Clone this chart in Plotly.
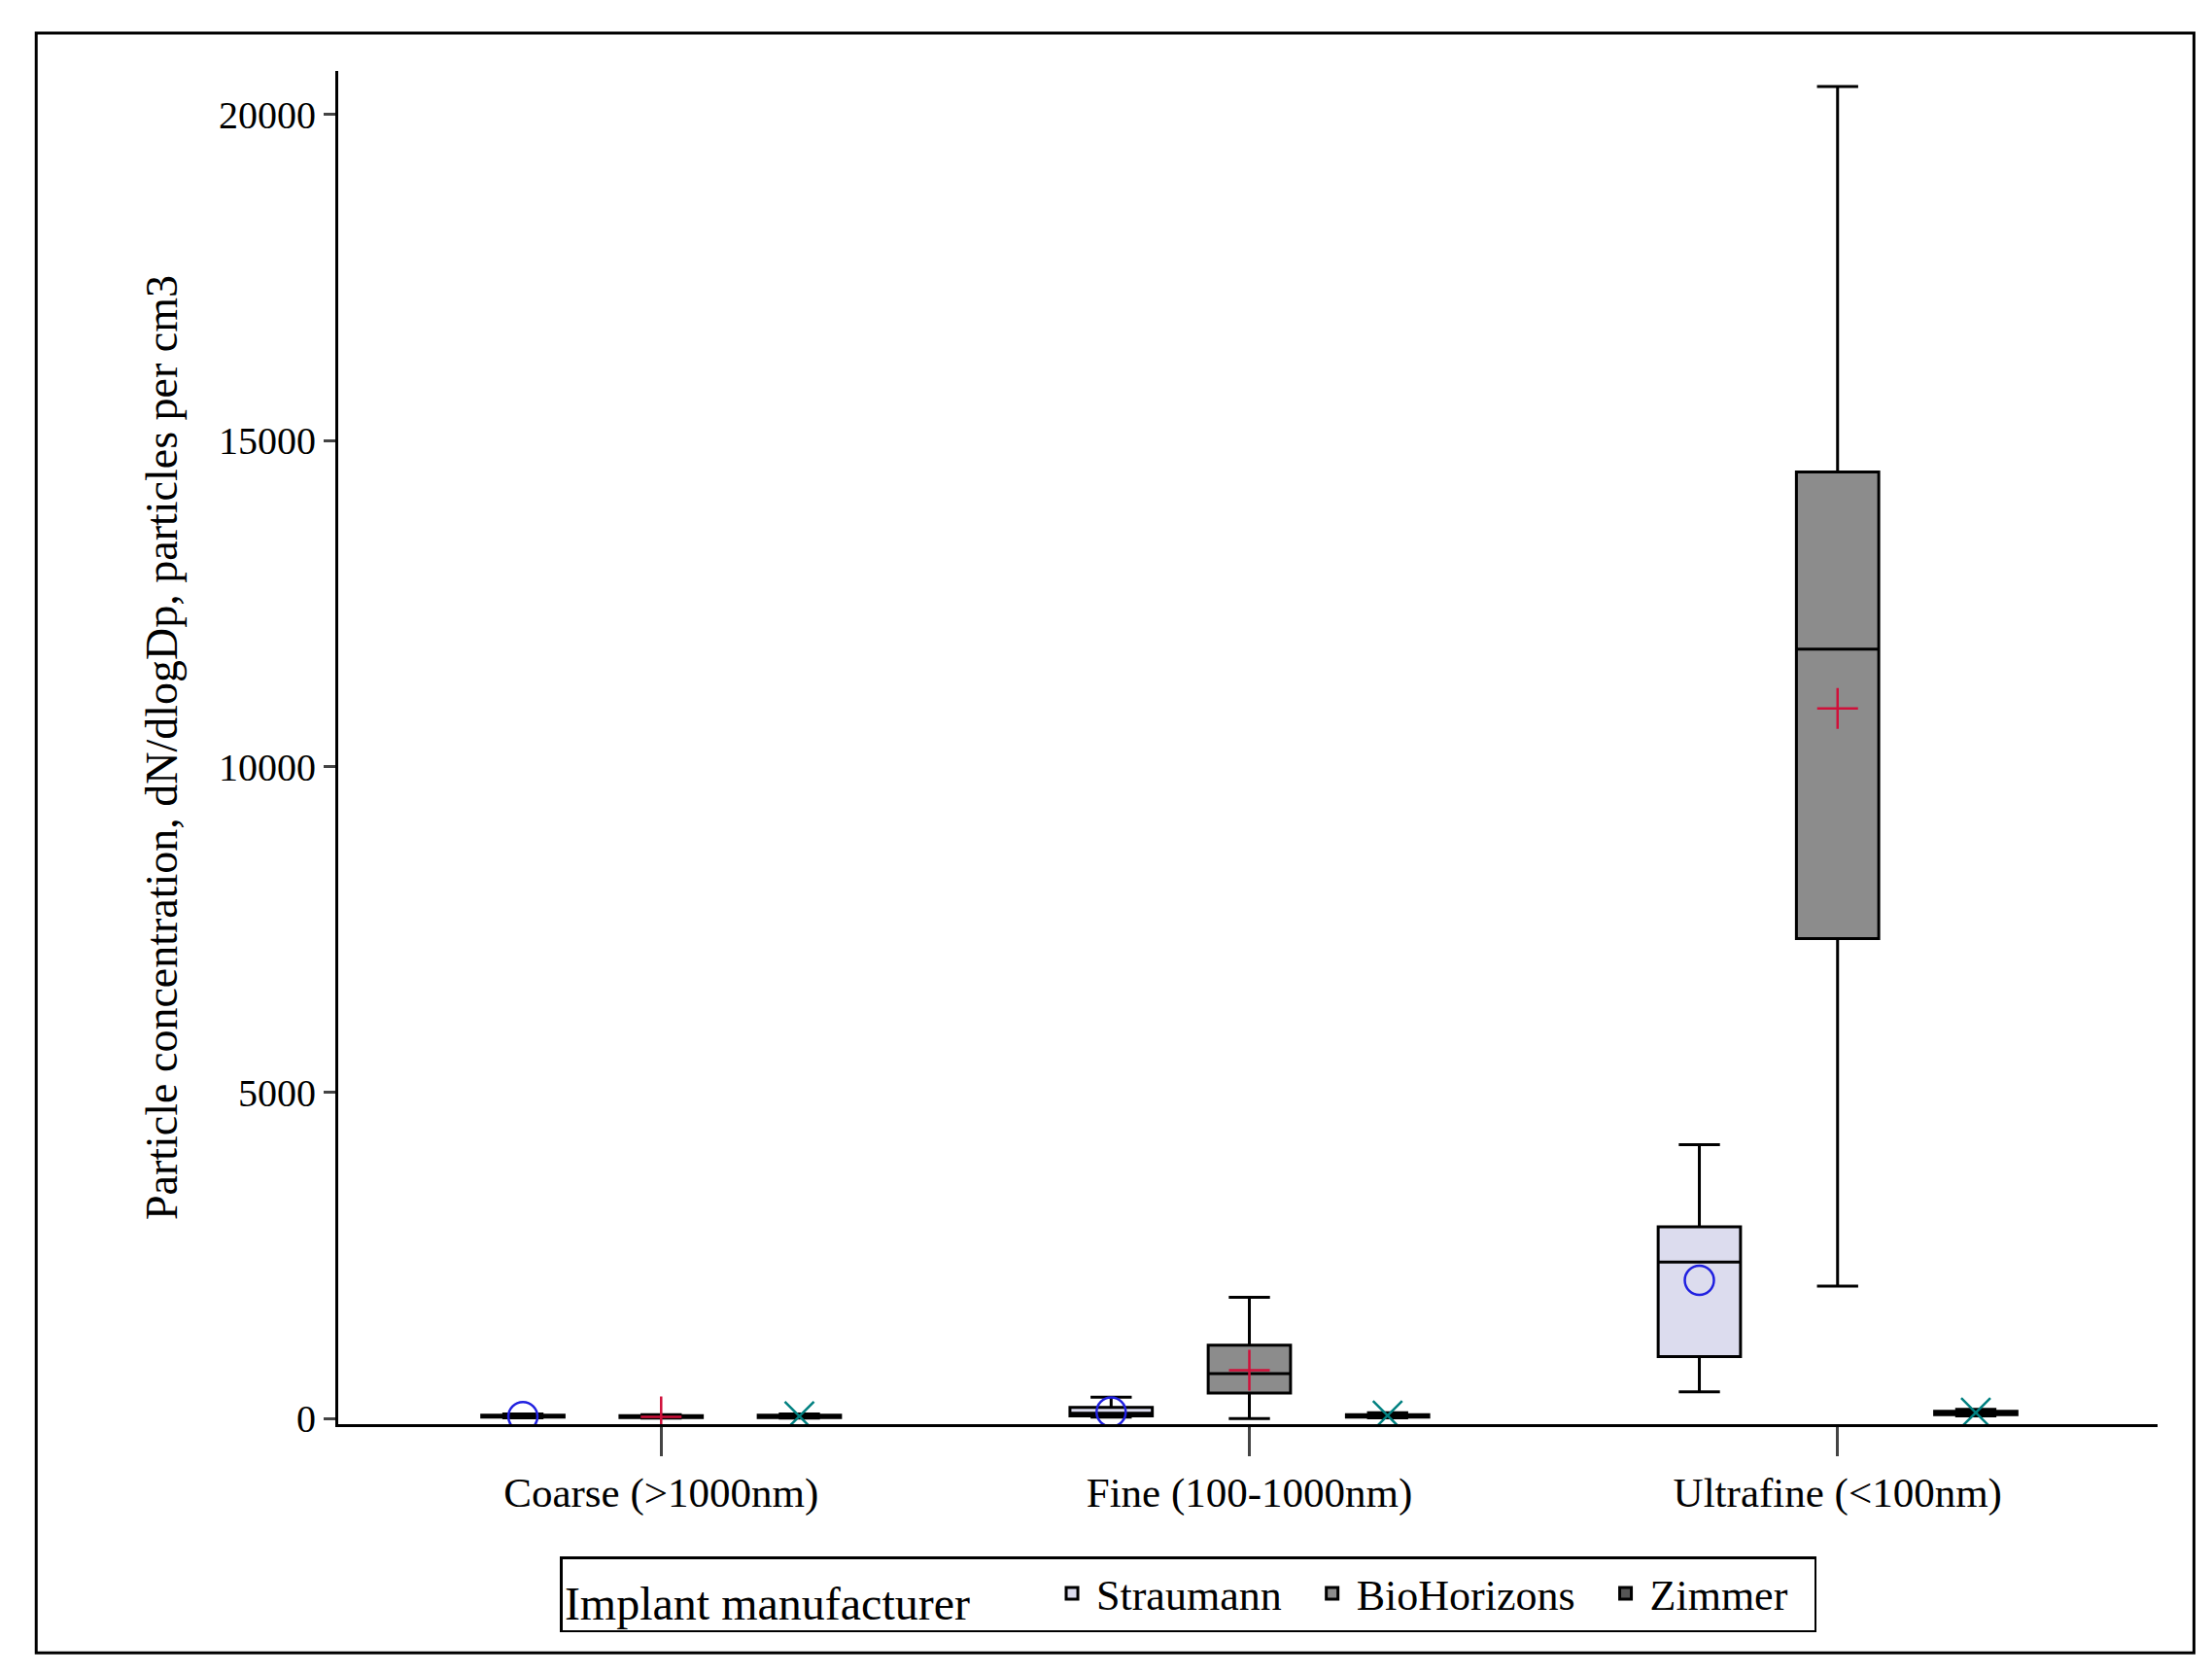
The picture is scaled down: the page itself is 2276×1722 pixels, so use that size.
import plotly.graph_objects as go

categories = ["Coarse (>1000nm)", "Fine (100-1000nm)", "Ultrafine (<100nm)"]
manufacturers = ["Straumann", "BioHorizons", "Zimmer"]
lower = {"Straumann": [10, 20, 410], "BioHorizons": [5, 0, 2030], "Zimmer": [5, 10, 40]}
q1 = {"Straumann": [20, 40, 950], "BioHorizons": [15, 390, 7360], "Zimmer": [15, 20, 60]}
median = {"Straumann": [30, 80, 2400], "BioHorizons": [25, 690, 11800], "Zimmer": [30, 40, 80]}
q3 = {"Straumann": [50, 170, 2940], "BioHorizons": [45, 1125, 14520], "Zimmer": [50, 60, 110]}
upper = {"Straumann": [70, 325, 4200], "BioHorizons": [60, 1860, 20430], "Zimmer": [70, 90, 140]}
mean = {"Straumann": [30, 100, 2120], "BioHorizons": [25, 740, 10890], "Zimmer": [35, 45, 90]}
ytick_vals = [0, 5000, 10000, 15000, 20000]
ytick_text = ["0", "5000", "10000", "15000", "20000"]

fills = {"Straumann": "#DCDCEE", "BioHorizons": "#8C8C8C", "Zimmer": "#555555"}
mean_style = {"Straumann": ("circle-open", "#2020E0"),
              "BioHorizons": ("cross-thin-open", "#D0103A"),
              "Zimmer": ("x-thin-open", "#008080")}
offsets = {"Straumann": -0.235, "BioHorizons": 0.0, "Zimmer": 0.235}

fig = go.Figure()
for m in manufacturers:
    xs = [i + offsets[m] for i in range(len(categories))]
    fig.add_trace(go.Box(
        x=xs, q1=q1[m], median=median[m], q3=q3[m],
        lowerfence=lower[m], upperfence=upper[m],
        name=m + "  ", width=0.14, whiskerwidth=0.5,
        fillcolor=fills[m], line=dict(color="#000000", width=3),
        hoverinfo="skip"))
for m in manufacturers:
    xs = [i + offsets[m] for i in range(len(categories))]
    sym, col = mean_style[m]
    fig.add_trace(go.Scatter(
        x=xs, y=mean[m], mode="markers", showlegend=False,
        marker=dict(symbol=sym, size=30, color=col, line=dict(color=col, width=2.5))))

font = "Liberation Serif, Times New Roman, serif"
fig.update_layout(
    width=2276, height=1722,
    paper_bgcolor="white", plot_bgcolor="white",
    margin=dict(l=340, r=64, t=65, b=265),
    font=dict(family=font, color="black", size=40),
    showlegend=True,
    legend=dict(orientation="h", x=0.122, y=-0.098, xanchor="left", yanchor="top",
                title=dict(text="Implant manufacturer      ", font=dict(size=48)),
                font=dict(size=44), bordercolor="black", borderwidth=2.5,
                itemwidth=40, bgcolor="white"),
    xaxis=dict(range=[-0.549, 2.544], tickvals=[0, 1, 2], ticktext=categories,
               showgrid=False, zeroline=False, showline=True, linecolor="black",
               linewidth=3, ticks="outside", ticklen=30, tickwidth=2.5,
               tickfont=dict(size=43)),
    yaxis=dict(range=[-87, 20670], tickvals=ytick_vals, ticktext=ytick_text,
               showgrid=False, zeroline=False, showline=True, linecolor="black",
               linewidth=3, ticks="outside", ticklen=12, tickwidth=3,
               tickfont=dict(size=40),
               title=dict(text="Particle concentration, dN/dlogDp, particles per cm3",
                          font=dict(size=46), standoff=28)),
    shapes=[dict(type="rect", xref="paper", yref="paper", x0=-0.166, x1=1.020,
                 y0=-0.169, y1=1.028, line=dict(color="black", width=3))],
)
fig.write_html("out.html")
